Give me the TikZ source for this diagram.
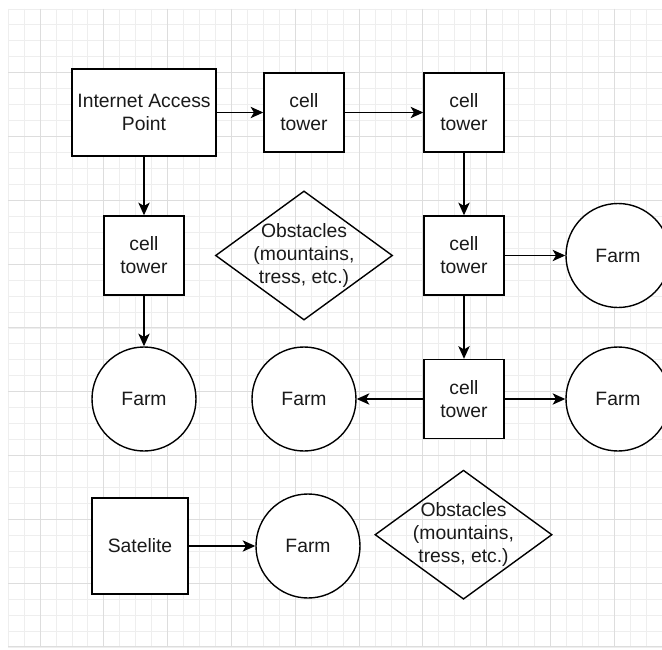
\documentclass[tikz,border=0pt]{standalone}
\usepackage{fontspec}
\setmainfont{Liberation Sans}
\usetikzlibrary{arrows.meta}
\definecolor{minorg}{HTML}{EEEEEE}
\definecolor{majorg}{HTML}{DDDDDD}
\definecolor{txt}{HTML}{1A1A1A}
\tikzset{
  minorgrid/.style={draw=minorg, line width=0.6pt},
  majorgrid/.style={draw=majorg, line width=0.75pt},
  base/.style={font=\fontsize{14.5}{17.25}\selectfont, text=txt, align=center, inner sep=0pt},
  box/.style={base, draw, fill=white, line width=1.05pt},
  tower/.style={box, minimum width=60pt, minimum height=59.25pt},
  farm/.style={base, draw, fill=white, circle, line width=1.05pt, minimum size=78pt},
  obst/.style={base, minimum width=132pt, minimum height=96pt},
  link/.style={line width=1.05pt, -{Stealth[length=9.5pt, width=8.5pt, inset=2.5pt]}}
}
\begin{document}
\begin{tikzpicture}[x=0.75pt, y=-0.75pt]
\useasboundingbox (0,0) rectangle (662,650);
\clip (0,0) rectangle (662,650);
\fill[white] (0,0) rectangle (662,650);
% grid
\foreach \k in {-2,...,39} { \draw[minorgrid] ({40+15.95*\k},8.9) -- ({40+15.95*\k},646.9); }
\foreach \k in {-4,...,36} { \draw[minorgrid] (8,{72.7+15.95*\k}) -- (662,{72.7+15.95*\k}); }
\foreach \k in {0,...,9} { \draw[majorgrid] ({40+63.8*\k},8.9) -- ({40+63.8*\k},646.9); }
\foreach \k in {0,...,9} { \draw[majorgrid] (8,{72.7+63.8*\k}) -- (662,{72.7+63.8*\k}); }

% nodes
\node[box, minimum width=108pt, minimum height=65.25pt] (iap) at (144,112.5) {Internet Access\\Point};
\node[tower] (ct1) at (304,112.5) {cell\\tower};
\node[tower] (ct2) at (464,112.5) {cell\\tower};
\node[tower] (ctL) at (144,255.5) {cell\\tower};
\node[obst] (obs1) at (304,255.5) {Obstacles\\(mountains,\\tress, etc.)};
\draw[line width=1.05pt] (obs1.west) -- (obs1.north) -- (obs1.east) -- (obs1.south) -- cycle;
\node[tower] (ctR) at (464,255.5) {cell\\tower};
\node[farm] (farmRT) at (618,255.5) {Farm};
\node[farm] (farmL) at (144,399) {Farm};
\node[farm] (farmM) at (304,399) {Farm};
\node[tower] (ct3) at (464,399) {cell\\tower};
\node[farm] (farmR) at (618,399) {Farm};
\node[box, minimum width=72pt, minimum height=72pt] (sat) at (140,546) {Satelite};
\node[farm] (farmB) at (308,546) {Farm};
\node[obst] (obs2) at (463.5,534.7) {Obstacles\\(mountains,\\tress, etc.)};
\draw[line width=1.05pt] (obs2.west) -- (obs2.north) -- (obs2.east) -- (obs2.south) -- cycle;

% connectors
\draw[link] (iap) -- (ct1);
\draw[link] (ct1) -- (ct2);
\draw[link] (iap) -- (ctL);
\draw[link] (ctL) -- (farmL);
\draw[link] (ct2) -- (ctR);
\draw[link] (ctR) -- (farmRT);
\draw[link] (ctR) -- (ct3);
\draw[link] (ct3) -- (farmM);
\draw[link] (ct3) -- (farmR);
\draw[link] (sat) -- (farmB);
\end{tikzpicture}
\end{document}
